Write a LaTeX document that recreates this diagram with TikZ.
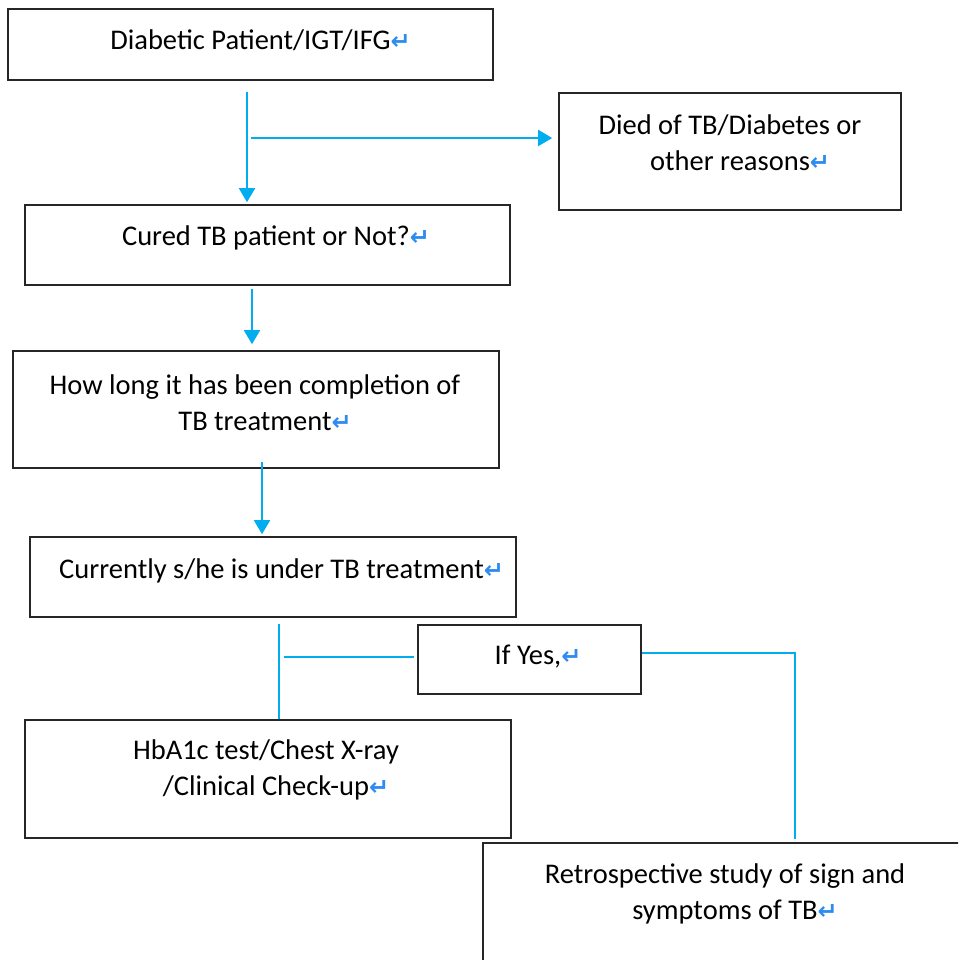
\documentclass[tikz,border=0pt]{standalone}
\usepackage{fontspec}
\setmainfont{Carlito}
\newfontfamily\markfont{DejaVu Sans}
\usetikzlibrary{
	positioning
	,arrows.meta
}
\definecolor{flowblue}{HTML}{00AEEF}
\definecolor{markblue}{HTML}{2E8BF0}
\newcommand\parmark{\rlap{\color{markblue}\markfont\bfseries\fontsize{24}{24}\selectfont ↵}}

\tikzset{
	box/.style={
		draw=black!85
		,line width=1.6pt
		,rectangle
		,inner sep=0pt
	}
	,boxtext/.style={
		align=center
		,inner sep=0pt
		,font=\fontsize{28.5}{36}\selectfont
	}
	,flow/.style={
		draw=flowblue
		,line width=1.7pt
	}
}
\tikzset{
	>={Triangle[width=16pt,length=14pt]}
}

\begin{document}
\begin{tikzpicture}[x=1pt, y=-1pt]

\useasboundingbox (0,0) rectangle (958,960);
\clip (0,0) rectangle (958,960);

% boxes
\node[box, minimum width=485pt, minimum height=71pt](diab) at(250.5,44.5){};
\node[box, minimum width=342pt, minimum height=117pt](died) at(730,151.5){};
\node[box, minimum width=485pt, minimum height=80pt](cured) at(267.5,245){};
\node[box, minimum width=486pt, minimum height=117pt](howlong) at(256,409.5){};
\node[box, minimum width=486pt, minimum height=80pt](current) at(273,577){};
\node[box, minimum width=223pt, minimum height=69pt](ifyes) at(529.5,659.5){};
\node[box, minimum width=486pt, minimum height=118pt](hba) at(268,779){};
\node[box, minimum width=484pt, minimum height=118pt](retro) at(725,902){};

% texts
\begin{scope}[every node/.append style={boxtext}]
\node(diabT) at(250.5,40){Diabetic Patient/IGT/IFG\parmark};
\node(diedT) at(730,143){Died of TB/Diabetes or\\other reasons\parmark};
\node(curedT) at(266,238){Cured TB patient or Not?\parmark};
\node(howlongT) at(255,403){How long it has been completion of\\TB treatment\parmark};
\node(currentT) at(271.5,571){Currently s/he is under TB treatment\parmark};
\node(ifyesT) at(528,657){If Yes,\parmark};
\node(hbaT) at(266,770){HbA1c test/Chest X-ray\\/Clinical Check-up\parmark};
\node(retroT) at(725,893.5){Retrospective study of sign and\\symptoms of TB\parmark};
\end{scope}

\coordinate(split) at(251,138);

% connectors
\draw[flow,->,shorten >=2pt] ([xshift=-3.5pt,yshift=-11pt]diab.south) -- ([xshift=-3.5pt]diab.south |- cured.north);
\draw[flow,->,shorten >=6pt] (split) -- (split -| died.west);
\draw[flow,->,shorten >=6pt] ([xshift=-15.5pt,yshift=-3pt]cured.south) -- ([xshift=-15.5pt]cured.south |- howlong.north);
\draw[flow,->,shorten >=2pt] ([xshift=6pt,yshift=7pt]howlong.south) -- ([xshift=6pt]howlong.south |- current.north);
\draw[flow] ([xshift=6pt,yshift=-6pt]current.south) -- ([xshift=6pt]current.south |- hba.north);
\draw[flow] ([shift={(-3,-2.5)}]ifyes.west) -- ++(-130,0);
\draw[flow] ([yshift=6.5pt]ifyes.east) -| ([xshift=70pt,yshift=3pt]retro.north);

\end{tikzpicture}
\end{document}
